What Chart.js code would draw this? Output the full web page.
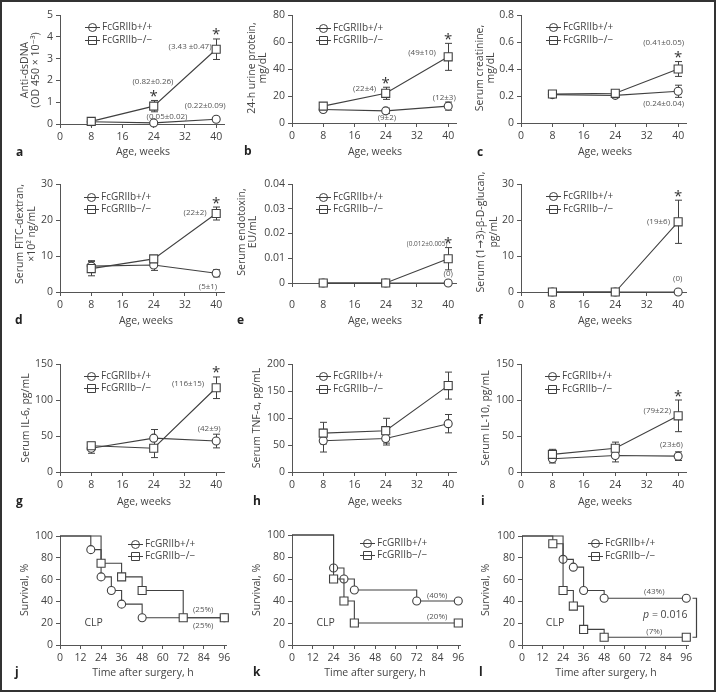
<!DOCTYPE html>
<html>
<head>
<meta charset="utf-8">
<script src="https://cdn.jsdelivr.net/npm/chart.js@4.4.1/dist/chart.umd.min.js"></script>
<style>
html, body { margin: 0; padding: 0; background: #fff; }
#fig { position: relative; width: 716px; height: 692px; overflow: hidden; }
#fig canvas { position: absolute; left: 0; top: 0; }
#frame { position: absolute; left: 0; top: 0; width: 712px; height: 688px; border: 2px solid #333; pointer-events: none; }
</style>
</head>
<body>
<div id="fig"><div id="frame"></div></div>
<script>
// ---- data ----
var ageWeeks = [8, 24, 40];
var ageTicks = [0, 8, 16, 24, 32, 40];
var hourTicks = [0, 12, 24, 36, 48, 60, 72, 84, 96];
var pctTicks = [0, 20, 40, 60, 80, 100];
var genotypes = ['FcGRIIb+/+', 'FcGRIIb\u2212/\u2212'];

// a: anti-dsDNA
var dsDnaWT = [0.10, 0.05, 0.22], dsDnaWTErr = [0.02, 0.02, 0.09];
var dsDnaKO = [0.12, 0.82, 3.43], dsDnaKOErr = [0.04, 0.26, 0.47];
// b: 24-h urine protein
var proteinWT = [10, 9, 12.5], proteinWTErr = [1.5, 2, 3];
var proteinKO = [12.5, 22, 49], proteinKOErr = [2, 4.5, 10];
// c: serum creatinine
var creatWT = [0.21, 0.205, 0.235], creatWTErr = [0.02, 0.01, 0.045];
var creatKO = [0.215, 0.22, 0.40], creatKOErr = [0.025, 0.01, 0.055];
// d: FITC-dextran
var fitcWT = [7.2, 7.5, 5.2], fitcWTErr = [1.5, 1.5, 1];
var fitcKO = [6.5, 9.2, 21.8], fitcKOErr = [2, 0.6, 1.8];
// e: endotoxin
var endoWT = [0, 0, 0], endoWTErr = [0, 0, 0];
var endoKO = [0, 0, 0.0098], endoKOErr = [0, 0, 0.0045];
// f: glucan
var glucanWT = [0, 0, 0], glucanWTErr = [0, 0, 0];
var glucanKO = [0, 0, 19.5], glucanKOErr = [0, 0, 6];
// g: IL-6
var il6WT = [33, 47, 43], il6WTErr = [7, 12, 9.5];
var il6KO = [36.5, 33, 117], il6KOErr = [5, 13, 15];
// h: TNF-a
var tnfWT = [58, 62, 89.5], tnfWTErr = [21, 12, 17];
var tnfKO = [72, 76.5, 160], tnfKOErr = [20, 23, 25];
// i: IL-10
var il10WT = [18.5, 23, 22], il10WTErr = [6, 9, 6];
var il10KO = [24.5, 33, 78], il10KOErr = [7, 8.5, 22];
// j, k, l: survival after CLP
var jTimeWT = [0, 18, 24, 30, 36, 48, 96], jSurvWT = [100, 87.5, 62.5, 50, 37.5, 25, 25];
var jTimeKO = [0, 24, 36, 48, 72, 96], jSurvKO = [100, 75, 62.5, 50, 25, 25];
var kTimeWT = [0, 24, 30, 36, 72, 96], kSurvWT = [100, 70, 60, 50, 40, 40];
var kTimeKO = [0, 24, 30, 36, 96], kSurvKO = [100, 60, 40, 20, 20];
var lTimeWT = [0, 24, 30, 36, 48, 96], lSurvWT = [100, 78.6, 71.4, 50, 42.9, 42.9];
var lTimeKO = [0, 18, 24, 30, 36, 48, 96], lSurvKO = [100, 92.9, 50, 35.7, 14.3, 7.1, 7.1];

var FONT = '"Open Sans", "DejaVu Sans", sans-serif';
var LINE = '#404040';
var AXIS = '#555';
var TXT = '#444';

function pair(xWT, yWT, eWT, xKO, yKO, eKO) {
    return [
        { label: genotypes[0], style: 'circle', x: xWT, y: yWT, err: eWT },
        { label: genotypes[1], style: 'rect', x: xKO, y: yKO, err: eKO }
    ];
}

// panel layout (box = plot area left, top, right, bottom in px)
var panels = [
    { letter: 'a', box: [60, 15, 224, 124], xMax: 42, xTicks: ageTicks, yMax: 5, yTicks: [0, 1, 2, 3, 4, 5],
      yTitle: ['Anti-dsDNA', '(OD 450 \u00d7 10\u207b\u00b3)'], yTitleX: [25, 36], yTitleY: 70,
      xTitle: 'Age, weeks', xTitleX: 143, xTitleY: 152, letterX: 16, letterY: 153, legend: [85, 27, 12.5],
      series: pair(ageWeeks, dsDnaWT, dsDnaWTErr, ageWeeks, dsDnaKO, dsDnaKOErr),
      notes: [['(3.43 \u00b10.47)', 33.3, 3.55], ['(0.82\u00b10.26)', 23.8, 1.94], ['(0.05\u00b10.02)', 27.4, 0.32], ['(0.22\u00b10.09)', 37.2, 0.83]],
      stars: [[1, 1], [1, 2]] },
    { letter: 'b', box: [292, 15, 456, 123], xMax: 42, xTicks: ageTicks, yMax: 80, yTicks: [0, 20, 40, 60, 80],
      yTitle: ['24-h urine protein,', 'mg/dL'], yTitleX: [252, 263], yTitleY: 68,
      xTitle: 'Age, weeks', xTitleX: 375, xTitleY: 152, letterX: 244, letterY: 152, legend: [316, 28, 12],
      series: pair(ageWeeks, proteinWT, proteinWTErr, ageWeeks, proteinKO, proteinKOErr),
      notes: [['(49\u00b110)', 33.3, 52.2], ['(22\u00b14)', 18.6, 25.6], ['(12\u00b13)', 39, 18.9], ['(9\u00b12)', 24.3, 4.1]],
      stars: [[1, 1], [1, 2]] },
    { letter: 'c', box: [521, 15, 686, 123], xMax: 42, xTicks: ageTicks, yMax: 0.8, yTicks: [0, 0.2, 0.4, 0.6, 0.8],
      yTitle: ['Serum creatinine,', 'mg/dL'], yTitleX: [480, 491], yTitleY: 68,
      xTitle: 'Age, weeks', xTitleX: 605, xTitleY: 152, letterX: 477, letterY: 153, legend: [546, 27, 13],
      series: pair(ageWeeks, creatWT, creatWTErr, ageWeeks, creatKO, creatKOErr),
      notes: [['(0.41\u00b10.05)', 36.3, 0.593], ['(0.24\u00b10.04)', 36.3, 0.141]],
      stars: [[1, 2]] },
    { letter: 'd', box: [60, 184, 224, 292], xMax: 42, xTicks: ageTicks, yMax: 30, yTicks: [0, 10, 20, 30],
      yTitle: ['Serum FITC-dextran,', '\u00d710\u00b2 ng/mL'], yTitleX: [20, 32], yTitleY: 234,
      xTitle: 'Age, weeks', xTitleX: 146, xTitleY: 321, letterX: 15, letterY: 321, legend: [84, 197, 12],
      series: pair(ageWeeks, fitcWT, fitcWTErr, ageWeeks, fitcKO, fitcKOErr),
      notes: [['(22\u00b12)', 34.6, 21.9], ['(5\u00b11)', 37.9, 1.4]],
      stars: [[1, 2]] },
    { letter: 'e', box: [292, 184, 456, 283], xMax: 42, xTicks: ageTicks, yMax: 0.04, yTicks: [0, 0.01, 0.02, 0.03, 0.04],
      xTickPad: 12,
      yTitle: ['Serum endotoxin,', 'EU/mL'], yTitleX: [242, 253], yTitleY: 232,
      xTitle: 'Age, weeks', xTitleX: 375, xTitleY: 321, letterX: 237, letterY: 321, legend: [316, 197, 12],
      series: pair(ageWeeks, endoWT, endoWTErr, ageWeeks, endoKO, endoKOErr),
      notes: [['(0.012\u00b10.005)', 34.6, 0.0158, 6.5], ['(0)', 40, 0.0036]],
      stars: [[1, 2]] },
    { letter: 'f', box: [521, 184, 686, 292], xMax: 42, xTicks: ageTicks, yMax: 30, yTicks: [0, 10, 20, 30],
      yTitle: ['Serum (1\u21923)-\u03b2-D-glucan,', 'pg/mL'], yTitleX: [481, 494], yTitleY: 232,
      xTitle: 'Age, weeks', xTitleX: 605, xTitleY: 321, letterX: 478, letterY: 321, legend: [546, 196, 13],
      series: pair(ageWeeks, glucanWT, glucanWTErr, ageWeeks, glucanKO, glucanKOErr),
      notes: [['(19\u00b16)', 35, 19.4], ['(0)', 39.9, 3.6]],
      stars: [[1, 2]] },
    { letter: 'g', box: [60, 364, 224, 472], xMax: 42, xTicks: ageTicks, yMax: 150, yTicks: [0, 50, 100, 150],
      yTitle: ['Serum IL-6, pg/mL'], yTitleX: [26], yTitleY: 418,
      xTitle: 'Age, weeks', xTitleX: 144, xTitleY: 502, letterX: 16, letterY: 502, legend: [84, 376, 12],
      series: pair(ageWeeks, il6WT, il6WTErr, ageWeeks, il6KO, il6KOErr),
      notes: [['(116\u00b115)', 32.8, 122], ['(42\u00b19)', 38.2, 59.7]],
      stars: [[1, 2]] },
    { letter: 'h', box: [292, 364, 456, 472], xMax: 42, xTicks: ageTicks, yMax: 200, yTicks: [0, 50, 100, 150, 200],
      yTitle: ['Serum TNF-\u03b1, pg/mL'], yTitleX: [257], yTitleY: 418,
      xTitle: 'Age, weeks', xTitleX: 375, xTitleY: 502, letterX: 253, letterY: 502, legend: [316, 376, 13],
      series: pair(ageWeeks, tnfWT, tnfWTErr, ageWeeks, tnfKO, tnfKOErr),
      notes: [], stars: [] },
    { letter: 'i', box: [521, 364, 686, 472], xMax: 42, xTicks: ageTicks, yMax: 150, yTicks: [0, 50, 100, 150],
      yTitle: ['Serum IL-10, pg/mL'], yTitleX: [486], yTitleY: 418,
      xTitle: 'Age, weeks', xTitleX: 605, xTitleY: 502, letterX: 481, letterY: 502, legend: [545, 376, 13],
      series: pair(ageWeeks, il10WT, il10WTErr, ageWeeks, il10KO, il10KOErr),
      notes: [['(79\u00b122)', 34.7, 84.7], ['(23\u00b16)', 38.3, 37.5]],
      stars: [[1, 2]] },
    { letter: 'j', box: [60, 536, 226, 645], xMax: 97, xTicks: hourTicks, yMax: 100, yTicks: pctTicks, stepped: true,
      yTitle: ['Survival, %'], yTitleX: [25], yTitleY: 590,
      xTitle: 'Time after surgery, h', xTitleX: 143, xTitleY: 673, letterX: 15, letterY: 673, legend: [128, 544, 12],
      series: pair(jTimeWT, jSurvWT, null, jTimeKO, jSurvKO, null),
      notes: [['(25%)', 83.7, 32.1], ['(25%)', 83.7, 17.4]], clp: [19.7, 20.2], stars: [] },
    { letter: 'k', box: [292, 535, 460, 645], xMax: 97, xTicks: hourTicks, yMax: 100, yTicks: pctTicks, stepped: true,
      yTitle: ['Survival, %'], yTitleX: [257], yTitleY: 590,
      xTitle: 'Time after surgery, h', xTitleX: 375, xTitleY: 673, letterX: 253, letterY: 673, legend: [360, 543, 12],
      series: pair(kTimeWT, kSurvWT, null, kTimeKO, kSurvKO, null),
      notes: [['(40%)', 83.8, 44.5], ['(20%)', 83.8, 25.5]], clp: [19.4, 20], stars: [] },
    { letter: 'l', box: [522, 536, 688, 645], xMax: 97, xTicks: hourTicks, yMax: 100, yTicks: pctTicks, stepped: true,
      yTitle: ['Survival, %'], yTitleX: [486], yTitleY: 590,
      xTitle: 'Time after surgery, h', xTitleX: 606, xTitleY: 673, letterX: 479, letterY: 673, legend: [588, 543, 13],
      series: pair(lTimeWT, lSurvWT, null, lTimeKO, lSurvKO, null),
      notes: [['(43%)', 77.3, 48.6], ['(7%)', 77.3, 11.9]], clp: [19.3, 20.2], stars: [],
      pValue: { text: ' = 0.016', x: 83.7, y: 27.5 }, bracket: [42.9, 7.1] }
];

function marker(ctx, style, x, y, fill) {
    ctx.beginPath();
    if (style === 'circle') ctx.arc(x, y, 4, 0, Math.PI * 2);
    else ctx.rect(x - 4, y - 4, 8, 8);
    if (fill) { ctx.fillStyle = fill; ctx.fill(); }
    ctx.stroke();
}

function makeDecor(p) {
    return {
        id: 'decor_' + p.letter,
        beforeDatasetsDraw: function (chart) {
            var ctx = chart.ctx, xs = chart.scales.x, ys = chart.scales.y;
            ctx.save();
            ctx.strokeStyle = LINE;
            ctx.lineWidth = 1;
            p.series.forEach(function (s) {
                if (!s.err) return;
                s.x.forEach(function (xv, i) {
                    var e = s.err[i];
                    if (!e) return;
                    var px = Math.round(xs.getPixelForValue(xv)) + 0.5;
                    var y1 = ys.getPixelForValue(s.y[i] + e);
                    var y2 = ys.getPixelForValue(s.y[i] - e);
                    ctx.beginPath();
                    ctx.moveTo(px, y1); ctx.lineTo(px, y2);
                    ctx.moveTo(px - 3.5, y1); ctx.lineTo(px + 3.5, y1);
                    ctx.moveTo(px - 3.5, y2); ctx.lineTo(px + 3.5, y2);
                    ctx.stroke();
                });
            });
            ctx.restore();
        },
        afterDraw: function (chart) {
            var ctx = chart.ctx, xs = chart.scales.x, ys = chart.scales.y;
            ctx.save();
            ctx.fillStyle = TXT;
            ctx.textAlign = 'center';
            ctx.textBaseline = 'middle';
            ctx.font = '10.5px ' + FONT;

            // axis titles
            p.yTitle.forEach(function (t, i) {
                ctx.save();
                ctx.translate(p.yTitleX[i], p.yTitleY);
                ctx.rotate(-Math.PI / 2);
                ctx.fillText(t, 0, 0);
                ctx.restore();
            });
            ctx.fillText(p.xTitle, p.xTitleX, p.xTitleY);

            // panel letter
            ctx.font = 'bold 12px ' + FONT;
            ctx.textAlign = 'left';
            ctx.fillStyle = '#222';
            ctx.fillText(p.letter, p.letterX, p.letterY);

            // legend
            ctx.font = '10px ' + FONT;
            ctx.fillStyle = TXT;
            ctx.strokeStyle = LINE;
            ctx.lineWidth = 1;
            p.series.forEach(function (s, k) {
                var lx = p.legend[0], ly = Math.round(p.legend[1] + k * p.legend[2]) + 0.5;
                ctx.beginPath();
                ctx.moveTo(lx, ly); ctx.lineTo(lx + 15, ly);
                ctx.stroke();
                marker(ctx, s.style, lx + 7.5, ly, null);
                ctx.fillText(s.label, lx + 17, ly);
            });

            // value notes
            ctx.textAlign = 'center';
            ctx.fillStyle = '#555';
            p.notes.forEach(function (n) {
                ctx.font = (n[3] || 8) + 'px ' + FONT;
                ctx.fillText(n[0], xs.getPixelForValue(n[1]), ys.getPixelForValue(n[2]));
            });
            if (p.clp) {
                ctx.font = '10.5px ' + FONT;
                ctx.fillStyle = TXT;
                ctx.fillText('CLP', xs.getPixelForValue(p.clp[0]), ys.getPixelForValue(p.clp[1]));
            }

            // significance stars
            ctx.font = '15px ' + FONT;
            ctx.fillStyle = '#333';
            ctx.textBaseline = 'alphabetic';
            var m = ctx.measureText('*');
            var shift = (m.actualBoundingBoxAscent - m.actualBoundingBoxDescent) / 2;
            p.stars.forEach(function (st) {
                var s = p.series[st[0]], i = st[1];
                var px = xs.getPixelForValue(s.x[i]);
                var top = ys.getPixelForValue(s.y[i] + (s.err ? s.err[i] : 0));
                ctx.fillText('*', px, top - 7 + shift);
            });

            // log-rank p value and bracket
            if (p.pValue) {
                ctx.textBaseline = 'middle';
                ctx.fillStyle = TXT;
                ctx.font = 'italic 10.5px ' + FONT;
                var w1 = ctx.measureText('p').width;
                ctx.font = '10.5px ' + FONT;
                var w2 = ctx.measureText(p.pValue.text).width;
                var cx = xs.getPixelForValue(p.pValue.x) - (w1 + w2) / 2;
                var cy = ys.getPixelForValue(p.pValue.y);
                ctx.textAlign = 'left';
                ctx.font = 'italic 10.5px ' + FONT;
                ctx.fillText('p', cx, cy);
                ctx.font = '10.5px ' + FONT;
                ctx.fillText(p.pValue.text, cx + w1, cy);
            }
            if (p.bracket) {
                var bx = Math.round(xs.getPixelForValue(96)) + 10.5;
                var b1 = ys.getPixelForValue(p.bracket[0]), b2 = ys.getPixelForValue(p.bracket[1]);
                ctx.strokeStyle = LINE;
                ctx.lineWidth = 1.2;
                ctx.beginPath();
                ctx.moveTo(bx - 4, b1); ctx.lineTo(bx, b1); ctx.lineTo(bx, b2); ctx.lineTo(bx - 4, b2);
                ctx.stroke();
            }
            ctx.restore();
        }
    };
}

function axisOpts(min, max, ticks, pad) {
    return {
        type: 'linear',
        min: min,
        max: max,
        afterBuildTicks: function (s) {
            s.ticks = ticks.map(function (v) { return { value: v }; });
        },
        grid: { display: true, drawOnChartArea: false, drawTicks: true, tickLength: 4, color: AXIS, lineWidth: 1 },
        border: { display: true, color: AXIS, width: 1 },
        ticks: {
            color: TXT,
            padding: pad,
            autoSkip: false,
            maxRotation: 0,
            font: { family: FONT, size: 10.5 },
            callback: function (v) { return String(v); }
        }
    };
}

var fig = document.getElementById('fig');
panels.forEach(function (p) {
    var canvas = document.createElement('canvas');
    canvas.width = 716;
    canvas.height = 692;
    fig.insertBefore(canvas, document.getElementById('frame'));

    var datasets = p.series.map(function (s, k) {
        return {
            label: s.label,
            data: s.x.map(function (xv, i) { return { x: xv, y: s.y[i] }; }),
            borderColor: LINE,
            borderWidth: 1.1,
            pointStyle: s.style,
            pointRadius: s.x.map(function (xv, i) {
                if (p.stepped && i === 0) return 0;
                return s.style === 'circle' ? 4 : 5.7;
            }),
            pointBackgroundColor: '#fff',
            pointBorderColor: LINE,
            pointBorderWidth: 1.1,
            stepped: p.stepped ? 'before' : false,
            tension: 0,
            clip: false,
            order: k === 1 ? 0 : 1
        };
    });

    var x = axisOpts(0, p.xMax, p.xTicks, p.xTickPad || 3);
    x.afterFit = function (s) { s.height = 30; };
    var y = axisOpts(0, p.yMax, p.yTicks, 3);
    y.afterFit = function (s) { s.width = 40; };

    new Chart(canvas, {
        type: 'line',
        data: { datasets: datasets },
        options: {
            responsive: false,
            animation: false,
            events: [],
            layout: { padding: { left: p.box[0] - 40, top: p.box[1], right: 716 - p.box[2], bottom: 692 - p.box[3] - 30 } },
            scales: { x: x, y: y },
            plugins: { legend: { display: false }, tooltip: { enabled: false } }
        },
        plugins: [makeDecor(p)]
    });
});
</script>
</body>
</html>
